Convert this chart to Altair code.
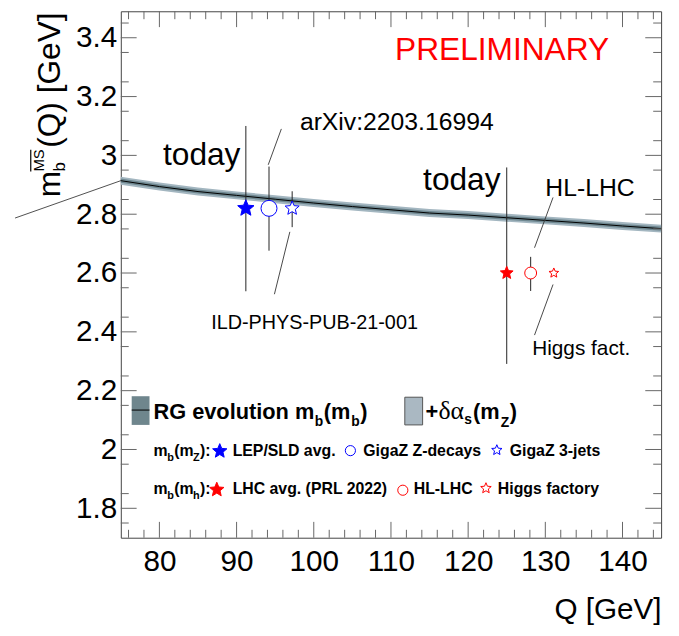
import math
import altair as alt
import pandas as pd

# ---------------- data ----------------
# RG evolution of m_b(Q) (central curve)
q_curve = [75, 80, 85, 90, 95, 100, 105, 110, 115, 120, 125, 130, 135, 140, 145]
m_curve = [2.914, 2.894, 2.877, 2.864, 2.851, 2.838, 2.826, 2.815, 2.804,
           2.797, 2.788, 2.779, 2.770, 2.760, 2.751]
band_mb = 0.007     # half width, m_b(m_b) uncertainty
band_as = 0.0135    # half width, + delta alpha_s(m_Z)

# stray curve piece drawn outside the frame in the original
stub_q = [61.3, 75.0]
stub_m = [2.787, 2.914]

# measurements / projections
pt_label = ["LEP/SLD avg.", "GigaZ Z-decays", "GigaZ 3-jets",
            "LHC avg. (PRL 2022)", "HL-LHC", "Higgs factory"]
pt_q = [91.2, 94.2, 97.2, 125.0, 128.1, 131.1]
pt_m = [2.82, 2.82, 2.82, 2.60, 2.60, 2.60]
pt_lo = [2.538, 2.676, 2.756, 2.291, 2.539, 2.600]
pt_hi = [3.100, 2.962, 2.878, 2.959, 2.655, 2.600]

# annotation texts
ann_text = ["today", "arXiv:2203.16994", "ILD-PHYS-PUB-21-001", "today",
            "HL-LHC", "Higgs fact.", "PRELIMINARY"]
ann_q = [90.5, 98.2, 100.1, 124.2, 130.0, 128.3, 124.4]
ann_m = [2.968, 3.086, 2.410, 2.884, 2.861, 2.322, 3.325]

# pointer lines from labels to points
ptr_q1 = [95.8, 96.9, 131.0, 131.0]
ptr_m1 = [3.090, 2.740, 2.857, 2.561]
ptr_q2 = [94.1, 94.9, 128.6, 128.6]
ptr_m2 = [2.968, 2.528, 2.686, 2.389]

x_major = [80, 90, 100, 110, 120, 130, 140]
x_minor = [v for v in range(76, 145, 2) if v % 10 != 0]
y_major = [1.8, 2.0, 2.2, 2.4, 2.6, 2.8, 3.0, 3.2, 3.4]
y_minor = [round(1.75 + 0.1 * i, 2) for i in range(18)]

# ---------------- layout / style ----------------
W, H = 546, 532
OX, OY = 122, 8          # page position of plot origin
FONT = "Liberation Sans"
SERIF = "Liberation Serif"


def star(r_in=0.45):
    pts = []
    for k in range(10):
        a = math.radians(-90 + 36 * k)
        r = 1.0 if k % 2 == 0 else r_in
        pts.append(f"{r * math.cos(a):.3f},{r * math.sin(a):.3f}")
    return "M" + "L".join(pts) + "Z"


STAR = star(0.45)
BLUE, RED = "#0000ff", "#ff0000"

xs = alt.Scale(domain=[75, 145], nice=False, zero=False, padding=0)
ys = alt.Scale(domain=[1.7, 3.49], nice=False, zero=False, padding=0)
xaxis = alt.Axis(values=x_major, grid=False, ticks=False, domain=False,
                 labelFontSize=30, labelFont=FONT, labelColor="black",
                 labelPadding=9, labelFlush=False, labelOverlap=False,
                 title="Q [GeV]", titleFont=FONT, titleFontSize=30,
                 titleFontWeight="normal", titleColor="black",
                 titleAnchor="end", titleAlign="right", titleX=W, titleY=82,
                 titleBaseline="alphabetic")
yaxis = alt.Axis(values=y_major, grid=False, ticks=False, domain=False,
                 labelFontSize=30, labelFont=FONT, labelColor="black",
                 labelPadding=4, labelFlush=False, labelOverlap=False,
                 labelExpr="replace(format(datum.value, '.1f'), '.0', '')",
                 title=None)


def X(f):
    return alt.X(f, type="quantitative", scale=xs, axis=xaxis)


def Y(f):
    return alt.Y(f, type="quantitative", scale=ys, axis=yaxis)


curve = pd.DataFrame({"q": q_curve, "m": m_curve})
curve["lo2"] = curve.m - band_as
curve["hi2"] = curve.m + band_as
curve["lo1"] = curve.m - band_mb
curve["hi1"] = curve.m + band_mb

layers = []
layers.append(alt.Chart(curve).mark_area(color="#a3b6c0", opacity=1).encode(
    x=X("q"), y=Y("lo2"), y2="hi2"))
layers.append(alt.Chart(curve).mark_area(color="#6f8891", opacity=1).encode(
    x=X("q"), y=Y("lo1"), y2="hi1"))
layers.append(alt.Chart(curve).mark_line(color="black", strokeWidth=1).encode(
    x=X("q"), y=Y("m")))
layers.append(alt.Chart(pd.DataFrame({"q": stub_q, "m": stub_m}))
              .mark_line(color="#222", strokeWidth=0.8, clip=False)
              .encode(x=X("q"), y=Y("m")))

# inward ticks
TMAJ, TMIN = 16, 8
for vals, L in ((x_major, TMAJ), (x_minor, TMIN)):
    d = pd.DataFrame({"v": vals})
    layers.append(alt.Chart(d).mark_rule(color="#666", strokeWidth=1).encode(
        x=X("v"), y=alt.value(H), y2=alt.value(H - L)))
    layers.append(alt.Chart(d).mark_rule(color="#666", strokeWidth=1).encode(
        x=X("v"), y=alt.value(0), y2=alt.value(L)))
for vals, L in ((y_major, TMAJ), (y_minor, TMIN)):
    d = pd.DataFrame({"v": vals})
    layers.append(alt.Chart(d).mark_rule(color="#666", strokeWidth=1).encode(
        y=Y("v"), x=alt.value(0), x2=alt.value(L)))
    layers.append(alt.Chart(d).mark_rule(color="#666", strokeWidth=1).encode(
        y=Y("v"), x=alt.value(W), x2=alt.value(W - L)))

# pointer lines
ptr = pd.DataFrame({"q1": ptr_q1, "m1": ptr_m1, "q2": ptr_q2, "m2": ptr_m2})
layers.append(alt.Chart(ptr).mark_rule(color="#333", strokeWidth=0.9).encode(
    x=X("q1"), y=Y("m1"), x2="q2", y2="m2"))

# error bars
pts = pd.DataFrame({"label": pt_label, "q": pt_q, "m": pt_m,
                    "lo": pt_lo, "hi": pt_hi})
layers.append(alt.Chart(pts).mark_rule(color="#222", strokeWidth=1).encode(
    x=X("q"), y=Y("lo"), y2="hi"))

# markers
m_shape = [STAR, "circle", STAR, STAR, "circle", STAR]
m_stroke = [BLUE, BLUE, BLUE, RED, RED, RED]
m_fill = [BLUE, "white", "white", RED, "white", "white"]
m_size = [300, 105, 115, 300, 115, 165]
layers.append(alt.Chart(pts).mark_point(filled=True, opacity=1, strokeWidth=1).encode(
    x=X("q"), y=Y("m"),
    shape=alt.Shape("label:N", scale=alt.Scale(domain=pt_label, range=m_shape), legend=None),
    fill=alt.Fill("label:N", scale=alt.Scale(domain=pt_label, range=m_fill), legend=None),
    stroke=alt.Stroke("label:N", scale=alt.Scale(domain=pt_label, range=m_stroke), legend=None),
    size=alt.Size("label:N", scale=alt.Scale(domain=pt_label, range=m_size), legend=None),
))

# annotations (data coordinates)
ann_style = [
    dict(fontSize=32, align="right"),
    dict(fontSize=25, align="left"),
    dict(fontSize=20, align="center"),
    dict(fontSize=32, align="right"),
    dict(fontSize=25, align="left"),
    dict(fontSize=21, align="left"),
    dict(fontSize=32, align="center", color=RED),
]
for i, t in enumerate(ann_text):
    st = dict(font=FONT, baseline="alphabetic", color="black")
    st.update(ann_style[i])
    d = pd.DataFrame({"q": [ann_q[i]], "m": [ann_m[i]], "t": [t]})
    layers.append(alt.Chart(d).mark_text(**st).encode(x=X("q"), y=Y("m"), text="t:N"))

one = pd.DataFrame({"a": [0]})


def ptext(px, py, txt, size, weight="normal", font=FONT, angle=0, color="black"):
    kw = dict(font=font, fontSize=size, fontWeight=weight, align="left",
              baseline="alphabetic", color=color)
    if angle:
        kw["angle"] = angle
    return alt.Chart(one).mark_text(**kw).encode(
        x=alt.value(px - OX), y=alt.value(py - OY), text=alt.value(txt))


def prect(x1, y1, x2, y2, fill, stroke=None):
    kw = dict(fill=fill, opacity=1)
    if stroke:
        kw.update(stroke=stroke, strokeWidth=1)
    return alt.Chart(one).mark_rect(**kw).encode(
        x=alt.value(x1 - OX), x2=alt.value(x2 - OX),
        y=alt.value(y1 - OY), y2=alt.value(y2 - OY))


def pline(x1, y1, x2, y2, color="black", w=1):
    return alt.Chart(one).mark_rule(color=color, strokeWidth=w).encode(
        x=alt.value(x1 - OX), x2=alt.value(x2 - OX),
        y=alt.value(y1 - OY), y2=alt.value(y2 - OY))


def pmark(px, py, shape, fill, stroke, size):
    return alt.Chart(one).mark_point(filled=True, opacity=1, strokeWidth=1,
                                     shape=shape, fill=fill, stroke=stroke,
                                     size=size).encode(
        x=alt.value(px - OX), y=alt.value(py - OY))


# y-axis title (rotated, with sub/superscripts)
layers += [
    ptext(61, 196, "m", 32, angle=270),
    ptext(66, 170, "b", 17, angle=270),
    ptext(44, 170, "MS", 15, angle=270),
    pline(31, 148, 31, 170, "black", 1.2),
    ptext(61, 146, "(Q) [GeV]", 32, angle=270),
]

# legend, row 1
layers += [
    prect(133, 397, 151, 426, "#6f868d"),
    pline(133, 411, 151, 411, "black", 1),
    ptext(155, 420, "RG evolution m", 22, "bold"),
    ptext(318, 427, "b", 14, "bold"),
    ptext(327, 420, "(m", 22, "bold"),
    ptext(355, 427, "b", 14, "bold"),
    ptext(364, 420, ")", 22, "bold"),
    prect(409, 398, 427, 426, "#aab8c2", "#555"),
    ptext(430, 420, "+", 22, "bold"),
    ptext(443, 420, "δα", 26, "normal", SERIF),
    ptext(469, 425, "s", 14, "bold"),
    ptext(478, 420, "(m", 22, "bold"),
    ptext(506, 428, "Z", 14, "bold"),
    ptext(515, 420, ")", 22, "bold"),
]

# legend rows 2 and 3
leg_x_mark = [222, 354, 502, 219, 407, 491]
leg_y_mark = [452.5, 452, 451.5, 491.5, 492, 490]
leg_x_text = [235, 367, 515, 235, 418, 503]
leg_size = [230, 105, 120, 230, 105, 125]
for row, (base, sub) in enumerate(((457, "Z"), (496, "h"))):
    layers += [
        ptext(155, base, "m", 16, "bold"),
        ptext(169, base + 5, "b", 11, "bold"),
        ptext(176, base, "(m", 16, "bold"),
        ptext(195, base + 5, sub, 11, "bold"),
        ptext(202, base, "):", 16, "bold"),
    ]
    for j in range(3):
        i = 3 * row + j
        layers.append(pmark(leg_x_mark[i], leg_y_mark[i], m_shape[i],
                            m_fill[i], m_stroke[i], leg_size[i]))
        layers.append(ptext(leg_x_text[i], base, pt_label[i], 16, "bold"))

chart = alt.layer(*layers).properties(
    width=W, height=H,
    autosize=alt.AutoSizeParams(type="none"),
    padding={"left": 114, "top": 0, "right": 10, "bottom": 96},
    background="white",
).configure_view(stroke="#444", strokeWidth=1)

chart.save("out.html", embed_options={"renderer": "svg", "actions": False})
